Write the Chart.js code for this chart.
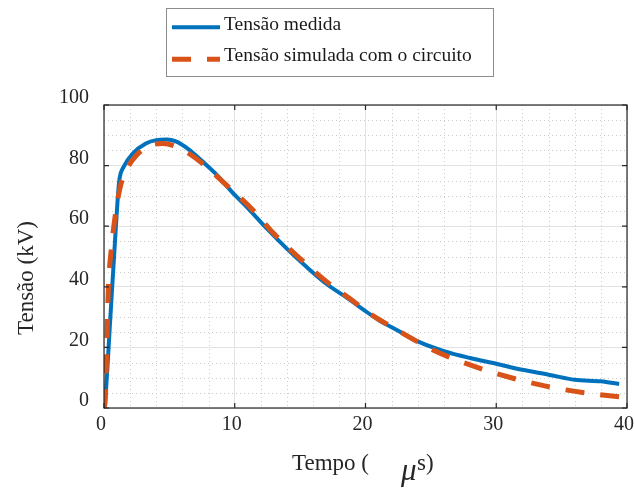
<!DOCTYPE html>
<html>
<head>
<meta charset="utf-8">
<script src="https://cdn.jsdelivr.net/npm/chart.js@4"></script>
<style>
  html, body { margin: 0; padding: 0; background: #fff; }
  canvas { display: block; }
</style>
</head>
<body>
<canvas id="tensaoChart" width="634" height="489"></canvas>
<script>
// tempo em microssegundos e tensão em kV
const tempoMedida = [0, 0.15, 0.46, 0.84, 1.1, 1.2, 1.5, 2.2, 3.2, 4.0, 4.8, 5.5, 6.5, 7.5, 8.5, 10, 11, 12.5, 14, 15.5, 17, 18.7, 20, 21, 22.5, 24, 26, 28, 30, 32, 34, 36, 38, 39.4];
const tensaoMedida = [0, 6, 28, 55, 72, 76, 79.6, 84, 87.3, 88.4, 88.6, 88.0, 85.3, 81.5, 77.5, 70.3, 66, 59, 52.5, 46.5, 41, 36, 32, 29, 25.5, 22, 18.8, 16.5, 14.6, 12.6, 11, 9.3, 8.8, 7.9];

const tempoSimulada = [0, 0.1, 0.33, 0.6, 1.0, 1.3, 1.7, 2.5, 3.5, 4.5, 5.5, 6.5, 8, 9.2, 11.4, 13, 15, 17, 19, 20.1, 22.6, 25.2, 28, 30.8, 33.7, 36.6, 39.4];
const tensaoSimulada = [0, 3, 39, 54, 67.5, 74, 78.5, 83.5, 86.6, 87.3, 86.3, 84, 79, 74.2, 65.3, 57.5, 49.3, 41.8, 35.5, 31.8, 25.3, 19.1, 14.2, 10.4, 7.3, 5.1, 3.7];

const labelsLegenda = ['Tensão medida', 'Tensão simulada com o circuito'];
const ticksX = [0, 10, 20, 30, 40];
const ticksY = [0, 20, 40, 60, 80, 100];

const azul = '#0072BD';
const laranja = '#D95319';
const eixoCor = '#262626';
const fonte = '"Liberation Serif", "Times New Roman", serif';

function pontos(xs, ys) {
    return xs.map((x, i) => ({ x: x, y: ys[i] }));
}

// grade menor pontilhada, marcas internas e caixa completa (estilo MATLAB)
const estiloMatlab = {
    id: 'estiloMatlab',
    beforeDatasetsDraw(chart) {
        const { ctx, chartArea: a, scales } = chart;
        ctx.save();
        ctx.strokeStyle = '#cccccc';
        ctx.lineWidth = 1;
        ctx.setLineDash([1, 3]);
        for (let v = 2; v < 40; v += 2) {
            if (v % 10 === 0) continue;
            const px = Math.round(scales.x.getPixelForValue(v)) + 0.5;
            ctx.beginPath(); ctx.moveTo(px, a.top); ctx.lineTo(px, a.bottom); ctx.stroke();
        }
        for (let v = 5; v < 100; v += 5) {
            if (v % 20 === 0) continue;
            const py = Math.round(scales.y.getPixelForValue(v)) + 0.5;
            ctx.beginPath(); ctx.moveTo(a.left, py); ctx.lineTo(a.right, py); ctx.stroke();
        }
        ctx.restore();
    },
    afterDatasetsDraw(chart) {
        const { ctx, chartArea: a, scales } = chart;
        ctx.save();
        ctx.strokeStyle = eixoCor;
        ctx.lineWidth = 1.2;
        ctx.strokeRect(a.left, a.top, a.right - a.left, a.bottom - a.top);
        const len = 5;
        ticksX.forEach(v => {
            const px = scales.x.getPixelForValue(v);
            ctx.beginPath();
            ctx.moveTo(px, a.bottom); ctx.lineTo(px, a.bottom - len);
            ctx.moveTo(px, a.top); ctx.lineTo(px, a.top + len);
            ctx.stroke();
        });
        ticksY.forEach(v => {
            const py = scales.y.getPixelForValue(v);
            ctx.beginPath();
            ctx.moveTo(a.left, py); ctx.lineTo(a.left + len, py);
            ctx.moveTo(a.right, py); ctx.lineTo(a.right - len, py);
            ctx.stroke();
        });
        ctx.restore();
    },
    afterDraw(chart) {
        const ctx = chart.ctx;
        ctx.save();
        ctx.fillStyle = eixoCor;

        // título do eixo x
        ctx.textBaseline = 'alphabetic';
        ctx.textAlign = 'left';
        ctx.font = '23px ' + fonte;
        ctx.fillText('Tempo (', 292, 470);
        ctx.fillText('s)', 417, 470);
        ctx.font = 'italic 31px ' + fonte;
        ctx.fillText('μ', 401, 480);

        // título do eixo y
        ctx.save();
        ctx.translate(33, 278);
        ctx.rotate(-Math.PI / 2);
        ctx.textAlign = 'center';
        ctx.font = '23px ' + fonte;
        ctx.fillText('Tensão (kV)', 0, 0);
        ctx.restore();

        // legenda com caixa
        ctx.fillStyle = '#fff';
        ctx.fillRect(166.5, 8.5, 327, 68);
        ctx.strokeStyle = '#8c8c8c';
        ctx.lineWidth = 1;
        ctx.strokeRect(166.5, 8.5, 327, 68);
        const linhasY = [27.3, 59.3];
        const textoY = [29.5, 61];
        chart.data.datasets.forEach((ds, i) => {
            ctx.save();
            ctx.strokeStyle = ds.borderColor;
            ctx.lineWidth = ds.borderWidth;
            ctx.lineCap = 'butt';
            ctx.setLineDash(ds.borderDash || []);
            ctx.beginPath();
            ctx.moveTo(172, linhasY[i]);
            ctx.lineTo(220, linhasY[i]);
            ctx.stroke();
            ctx.restore();
            ctx.fillStyle = '#1a1a1a';
            ctx.font = '19.5px ' + fonte;
            ctx.textAlign = 'left';
            ctx.fillText(ds.label, 224, textoY[i]);
        });
        ctx.restore();
    }
};

new Chart(document.getElementById('tensaoChart'), {
    type: 'line',
    data: {
        datasets: [
            {
                label: labelsLegenda[0],
                data: pontos(tempoMedida, tensaoMedida),
                borderColor: azul,
                borderWidth: 4,
                pointRadius: 0,
                cubicInterpolationMode: 'monotone',
                order: 2
            },
            {
                label: labelsLegenda[1],
                data: pontos(tempoSimulada, tensaoSimulada),
                borderColor: laranja,
                borderWidth: 5,
                borderDash: [19, 16],
                borderCapStyle: 'butt',
                pointRadius: 0,
                cubicInterpolationMode: 'monotone',
                order: 1
            }
        ]
    },
    options: {
        responsive: false,
        animation: false,
        devicePixelRatio: 1,
        layout: { padding: { top: 105, right: 7, left: 0, bottom: 0 } },
        plugins: {
            legend: { display: false },
            tooltip: { enabled: false }
        },
        scales: {
            x: {
                type: 'linear',
                min: 0,
                max: 40,
                afterFit: s => { s.height = 81; s.paddingLeft = 0; s.paddingRight = 0; },
                afterBuildTicks: s => { s.ticks = ticksX.map(v => ({ value: v })); },
                ticks: {
                    color: eixoCor,
                    font: { family: fonte, size: 20 },
                    padding: 5,
                    labelOffset: -3,
                    maxRotation: 0
                },
                grid: { color: '#e3e3e3', lineWidth: 1, drawTicks: false },
                border: { display: false }
            },
            y: {
                min: 0,
                max: 100,
                afterFit: s => { s.width = 104; s.paddingTop = 0; s.paddingBottom = 0; },
                afterBuildTicks: s => { s.ticks = ticksY.map(v => ({ value: v })); },
                ticks: {
                    color: eixoCor,
                    font: { family: fonte, size: 20 },
                    padding: 15,
                    labelOffset: -7
                },
                grid: { color: '#e3e3e3', lineWidth: 1, drawTicks: false },
                border: { display: false }
            }
        }
    },
    plugins: [estiloMatlab]
});
</script>
</body>
</html>
